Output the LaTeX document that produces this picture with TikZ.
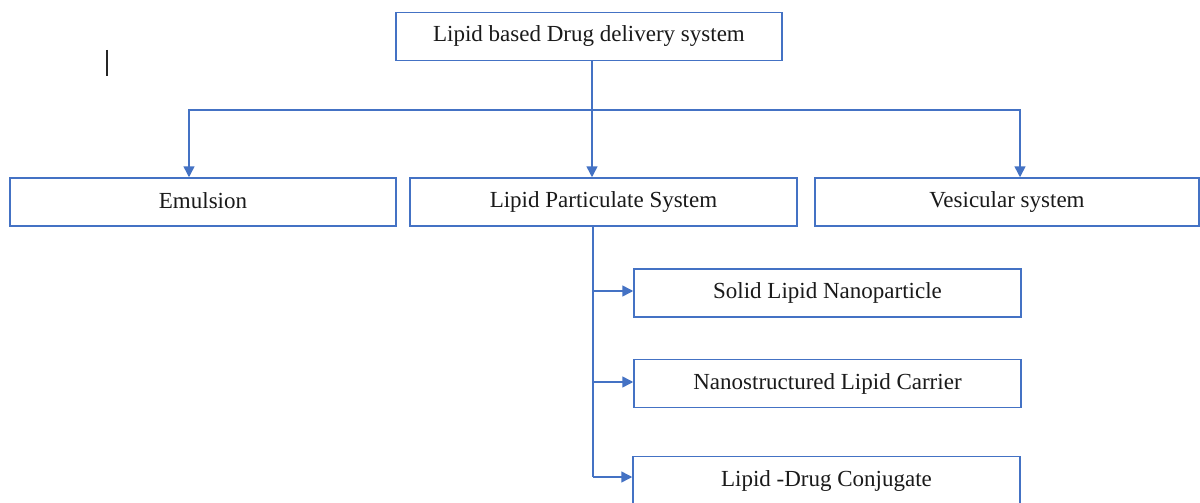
\documentclass[tikz,border=0pt]{standalone}
\usepackage{fontspec}
\setmainfont{Liberation Serif}
\usetikzlibrary{arrows.meta}
\definecolor{wblue}{HTML}{4472C4}
\definecolor{wtext}{HTML}{1A1A1A}
\tikzset{
  box/.style={draw=wblue, line width=1.5pt, minimum width=386pt, minimum height=48pt,
    inner sep=0pt, text=wtext, font=\fontsize{23}{27}\selectfont},
  link/.style={draw=wblue, line width=1.5pt},
  arr/.style={link, -{Triangle[length=11pt,width=11pt]}}
}
\begin{document}
\begin{tikzpicture}[x=1pt,y=-1pt]
\clip (0,0) rectangle (1200,503);
\fill[white] (0,0) rectangle (1200,503);
\node[box] (top) at (589,36.5) {\raisebox{2pt}{Lipid based Drug delivery system}};
\node[box] (emul) at (203,202) {\raisebox{2pt}{Emulsion}};
\node[box, minimum width=387pt] (lps) at (603.5,202) {\raisebox{2pt}{Lipid Particulate System}};
\node[box, minimum width=384pt] (ves) at (1007,202) {\raisebox{2pt}{Vesicular system}};
\node[box, minimum width=387pt] (sln) at (827.5,293) {\raisebox{2pt}{Solid Lipid Nanoparticle}};
\node[box, minimum width=387pt] (nlc) at (827.5,383.5) {\raisebox{2pt}{Nanostructured Lipid Carrier}};
\node[box, minimum width=387pt] (ldc) at (826.5,480.5) {\raisebox{2pt}{Lipid -Drug Conjugate}};
\coordinate (j) at (592,110);
\coordinate (b) at (593,477);
\draw[link] ([xshift=3pt]top.south) -- (j);
\draw[arr] (j) -| ([xshift=-14pt]emul.north);
\draw[arr] (j) -| ([xshift=13pt]ves.north);
\draw[arr] (j) -- (lps.north -| j);
\draw[link] (lps.south -| b) -- (b);
\draw[arr] ([yshift=2pt]sln.west -| b) -- ([yshift=2pt]sln.west);
\draw[arr] ([yshift=1.5pt]nlc.west -| b) -- ([yshift=1.5pt]nlc.west);
\draw[arr] (b) -- (ldc.west |- b);
\draw[line width=2pt, black!85] (107,50) -- (107,76);
\end{tikzpicture}
\end{document}
